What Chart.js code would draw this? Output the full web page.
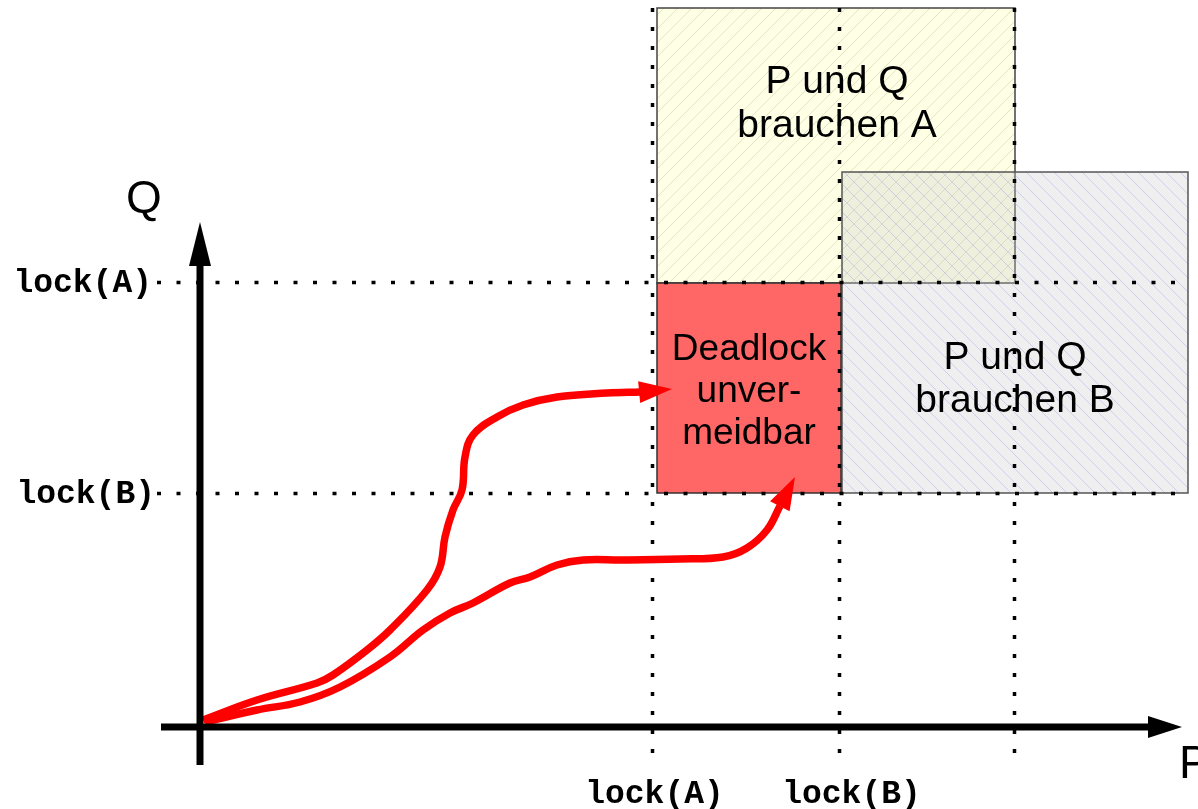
<!DOCTYPE html>
<html>
<head>
<meta charset="utf-8">
<script src="https://cdn.jsdelivr.net/npm/chart.js@4.4.1/dist/chart.umd.min.js"></script>
<style>
html,body{margin:0;padding:0;background:#fff;}
canvas{display:block;}
</style>
</head>
<body>
<canvas id="c" width="1198" height="809"></canvas>
<script>
// ---- Data (units: progress of P on x, progress of Q on y) ----
const lockP = [45.25, 63.95, 81.45];       // lock(A), lock(B), release on P axis
const lockQ = [44.45, 23.35];              // lock(A), lock(B) on Q axis
const tickLabelsP = ['lock(A)', 'lock(B)'];
const tickLabelsQ = ['lock(A)', 'lock(B)'];

// regions [x0, x1, y0, y1]
const regionNeedA = [45.7, 81.5, 44.4, 71.9];
const regionNeedB = [64.2, 98.8, 23.4, 55.5];
const regionDeadlock = [45.7, 64.1, 23.4, 44.4];
const regionLabels = [['P und Q', 'brauchen A'], ['P und Q', 'brauchen B'], ['Deadlock', 'unver-', 'meidbar']];

// trajectories
const path1X = [0.3, 5.7, 11.7, 13.3, 16.7, 19.0, 22.7, 24.0, 24.5, 25.3, 26.2, 26.5, 27.3, 29.7, 32.3, 35.7, 40.7, 44.0];
const path1Y = [0.7, 2.7, 4.4, 5.2, 7.7, 9.7, 13.7, 16.0, 19.0, 21.7, 23.7, 27.0, 29.2, 31.0, 32.2, 33.0, 33.4, 33.5];
const path1Tip = [47.2, 33.8];
const path2X = [0.5, 5.7, 10.0, 14.0, 19.0, 22.3, 25.0, 27.3, 31.0, 33.0, 35.7, 38.3, 42.3, 48.0, 52.3, 54.7, 56.7, 58.0];
const path2Y = [0.5, 1.7, 2.5, 4.0, 7.0, 9.7, 11.4, 12.4, 14.4, 15.0, 16.2, 16.7, 16.7, 16.8, 17.0, 17.9, 19.7, 22.1];
const path2Tip = [59.5, 25.0];

// axes extents
const axisXRange = [-3.9, 98.2];
const axisYRange = [-3.8, 50.5];
const dottedHRange = [-4.3, 99.0];
const dottedVRange = [-3.8, 71.9];

// ---- helpers ----
const zip = (xs, ys) => xs.map((x, i) => ({x, y: ys[i]}));

function hatch(color, dir, size) {
  const c = document.createElement('canvas');
  c.width = size; c.height = size;
  const g = c.getContext('2d');
  g.strokeStyle = color; g.lineWidth = 1;
  g.beginPath();
  if (dir === '/') {
    g.moveTo(0, size); g.lineTo(size, 0);
    g.moveTo(-2, 2); g.lineTo(2, -2);
    g.moveTo(size - 2, size + 2); g.lineTo(size + 2, size - 2);
  } else {
    g.moveTo(0, 0); g.lineTo(size, size);
    g.moveTo(-2, size - 2); g.lineTo(2, size + 2);
    g.moveTo(size - 2, -2); g.lineTo(size + 2, 2);
  }
  g.stroke();
  return c;
}

const datasets = [];
// axes (top)
datasets.push({data: [{x: axisXRange[0], y: 0}, {x: axisXRange[1] - 3.0, y: 0}], borderColor: '#000', borderWidth: 7, order: 0, arrow: {tip: {x: axisXRange[1], y: 0}, len: 34, half: 11, color: '#000'}});
datasets.push({data: [{x: 0, y: axisYRange[0]}, {x: 0, y: axisYRange[1] - 3.5}], borderColor: '#000', borderWidth: 7, order: 0, arrow: {tip: {x: 0, y: axisYRange[1]}, len: 44, half: 11, color: '#000'}});
// trajectories
datasets.push({data: zip(path1X, path1Y), borderColor: '#ff0000', borderWidth: 7.5, tension: 0.4, order: 1, arrow: {tip: {x: path1Tip[0], y: path1Tip[1]}, len: 33, half: 11, color: '#ff0000'}});
datasets.push({data: zip(path2X, path2Y), borderColor: '#ff0000', borderWidth: 7.5, tension: 0.4, order: 1, arrow: {tip: {x: path2Tip[0], y: path2Tip[1]}, len: 33, half: 11, color: '#ff0000'}});
// dotted guides
lockP.forEach(p => datasets.push({data: [{x: p, y: dottedVRange[1]}, {x: p, y: dottedVRange[0]}], borderColor: '#000', borderWidth: 3.5, borderDash: [4, 15], order: 2}));
lockQ.forEach(q => datasets.push({data: [{x: dottedHRange[0], y: q}, {x: dottedHRange[1], y: q}], borderColor: '#000', borderWidth: 3.5, borderDash: [4, 15.5], order: 2}));
datasets.forEach(d => { d.showLine = true; d.pointRadius = 0; d.borderCapStyle = 'butt'; d.fill = false; if (d.tension === undefined) d.tension = 0; });

const regionPlugin = {
  id: 'regions',
  beforeDatasetsDraw(chart) {
    const {ctx, scales: {x, y}} = chart;
    const rect = (r) => {
      const x0 = x.getPixelForValue(r[0]), x1 = x.getPixelForValue(r[1]);
      const y0 = y.getPixelForValue(r[3]), y1 = y.getPixelForValue(r[2]);
      return [x0, y0, x1 - x0, y1 - y0];
    };
    const pA = ctx.createPattern(hatch('rgba(200,200,165,0.5)', '/', 14), 'repeat');
    const pB = ctx.createPattern(hatch('rgba(150,150,235,0.38)', '\\', 14), 'repeat');
    ctx.save();
    // region A
    let r = rect(regionNeedA);
    ctx.fillStyle = 'rgb(255,255,230)'; ctx.fillRect(...r);
    ctx.fillStyle = pA; ctx.fillRect(...r);
    ctx.strokeStyle = '#444'; ctx.lineWidth = 1.5; ctx.strokeRect(...r);
    // region B
    r = rect(regionNeedB);
    ctx.fillStyle = 'rgba(201,201,201,0.3)'; ctx.fillRect(...r);
    ctx.fillStyle = pB; ctx.fillRect(...r);
    ctx.strokeStyle = '#555'; ctx.lineWidth = 1.5; ctx.strokeRect(...r);
    // deadlock
    r = rect(regionDeadlock);
    ctx.fillStyle = '#ff6666'; ctx.fillRect(...r);
    ctx.strokeStyle = '#333'; ctx.lineWidth = 1.5; ctx.strokeRect(...r);

    // region labels
    ctx.fillStyle = '#000';
    ctx.textAlign = 'center'; ctx.textBaseline = 'alphabetic';
    const put = (lines, cx, firstBase, step, font) => {
      ctx.font = font;
      lines.forEach((t, i) => ctx.fillText(t, x.getPixelForValue(cx), y.getPixelForValue(firstBase - i * step)));
    };
    put(regionLabels[0], (regionNeedA[0] + regionNeedA[1]) / 2 + 0.1, 63.4, 4.4, '39px "Liberation Sans", Arial, sans-serif');
    put(regionLabels[1], (regionNeedB[0] + regionNeedB[1]) / 2 - 0.0, 35.8, 4.3, '39px "Liberation Sans", Arial, sans-serif');
    put(regionLabels[2], (regionDeadlock[0] + regionDeadlock[1]) / 2 + 0.0, 36.7, 4.2, '37px "Liberation Sans", Arial, sans-serif');
    ctx.restore();
  },
  afterDatasetsDraw(chart) {
    const {ctx, scales: {x, y}} = chart;
    ctx.save();
    // arrowheads
    chart.data.datasets.forEach(d => {
      if (!d.arrow) return;
      const pts = d.data, last = pts[pts.length - 1];
      const bx = x.getPixelForValue(last.x), by = y.getPixelForValue(last.y);
      const tx = x.getPixelForValue(d.arrow.tip.x), ty = y.getPixelForValue(d.arrow.tip.y);
      const ang = Math.atan2(ty - by, tx - bx);
      const L = d.arrow.len, H = d.arrow.half;
      const baseX = tx - L * Math.cos(ang), baseY = ty - L * Math.sin(ang);
      ctx.fillStyle = d.arrow.color;
      ctx.beginPath();
      ctx.moveTo(tx, ty);
      ctx.lineTo(baseX + H * Math.sin(ang), baseY - H * Math.cos(ang));
      ctx.lineTo(baseX - H * Math.sin(ang), baseY + H * Math.cos(ang));
      ctx.closePath();
      ctx.fill();
    });
    // tick labels
    ctx.fillStyle = '#000';
    ctx.font = 'bold 33px "Liberation Mono", "Courier New", monospace';
    ctx.textBaseline = 'middle';
    ctx.textAlign = 'right';
    ctx.fillText(tickLabelsQ[0], x.getPixelForValue(-4.8), y.getPixelForValue(lockQ[0]) + 1);
    ctx.fillText(tickLabelsQ[1], x.getPixelForValue(-4.5), y.getPixelForValue(lockQ[1]) + 1);
    ctx.textAlign = 'center';
    ctx.fillText(tickLabelsP[0], x.getPixelForValue(lockP[0] + 0.2), y.getPixelForValue(-6.8));
    ctx.fillText(tickLabelsP[1], x.getPixelForValue(lockP[1] + 1.2), y.getPixelForValue(-6.8));
    // axis names
    ctx.font = '46px "Liberation Sans", Arial, sans-serif';
    ctx.textBaseline = 'alphabetic';
    ctx.textAlign = 'center';
    ctx.fillText('Q', x.getPixelForValue(-5.6), y.getPixelForValue(51.4));
    ctx.textAlign = 'left';
    ctx.fillText('P', x.getPixelForValue(97.9), y.getPixelForValue(-5.1));
    ctx.restore();
  }
};

new Chart(document.getElementById('c'), {
  type: 'scatter',
  data: {datasets},
  options: {
    responsive: false,
    devicePixelRatio: 1,
    animation: false,
    layout: {padding: 0},
    plugins: {legend: {display: false}, tooltip: {enabled: false}, title: {display: false}},
    scales: {
      x: {type: 'linear', min: -20, max: 99.8, display: false},
      y: {type: 'linear', min: -8.2, max: 72.7, display: false}
    }
  },
  plugins: [regionPlugin]
});
</script>
</body>
</html>
